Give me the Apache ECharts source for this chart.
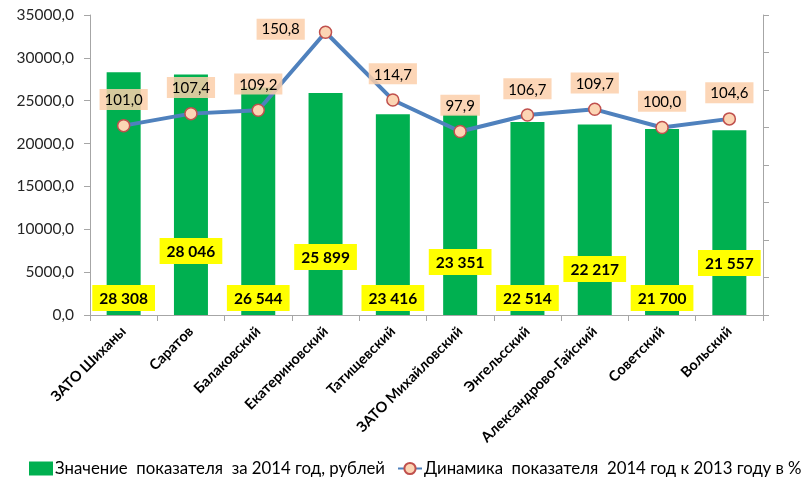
<!DOCTYPE html>
<html><head><meta charset="utf-8">
<script src="https://cdn.jsdelivr.net/npm/echarts@6/dist/echarts.min.js"></script>
<style>html,body{margin:0;padding:0;background:#fff}#c{width:810px;height:483px}</style>
</head><body><div id="c"></div>
<script>
const categories = ["ЗАТО Шиханы","Саратов","Балаковский","Екатериновский","Татищевский","ЗАТО Михайловский","Энгельсский","Александрово-Гайский","Советский","Вольский"];
const values2014 = [28308, 28046, 26544, 25899, 23416, 23351, 22514, 22217, 21700, 21557];
const dynamics = [101.0, 107.4, 109.2, 150.8, 114.7, 97.9, 106.7, 109.7, 100.0, 104.6];
const barLabelLift = [0, 47, 0, 41, 0, 36, 0, 29, 0, 35];
const barName = "Значение  показателя  за 2014 год, рублей";
const lineName = "Динамика  показателя  2014 год к 2013 году в %";

const font = "Lato, 'Open Sans', sans-serif";
const fmtThousands = v => String(v).replace(/\B(?=(\d{3})+(?!\d))/g, " ");
const fmtComma = v => Number(v).toFixed(1).replace(".", ",");

const chart = echarts.init(document.getElementById('c'), null, {renderer: 'canvas'});
chart.setOption({
  animation: false,
  textStyle: {fontFamily: font},
  grid: {left: 90, right: 47, top: 15, bottom: 168, containLabel: false},
  legend: {
    bottom: 1, left: 24, itemGap: 12, itemWidth: 24, itemHeight: 14,
    textStyle: {fontFamily: font, fontSize: 16.8, color: '#000', padding: [0, 0, 0, -3]},
    data: [
      {name: barName, icon: 'rect'},
      {name: lineName}
    ]
  },
  xAxis: {
    type: 'category', data: categories,
    axisLine: {lineStyle: {color: '#a6a6a6', width: 1}},
    axisTick: {show: true, alignWithLabel: false, length: 6, lineStyle: {color: '#a6a6a6'}},
    axisLabel: {rotate: 45, interval: 0, fontFamily: font, fontWeight: 'bold', fontSize: 14.5, color: '#000', margin: 14}
  },
  yAxis: [
    {
      type: 'value', min: 0, max: 35000, interval: 5000,
      axisLine: {show: true, lineStyle: {color: '#a6a6a6'}},
      axisTick: {show: true, length: 6, lineStyle: {color: '#a6a6a6'}},
      splitLine: {show: false},
      axisLabel: {formatter: fmtComma, fontFamily: font, fontSize: 15.5, color: '#262626', margin: 16}
    },
    {
      type: 'value', min: 0, max: 160, interval: 20, position: 'right',
      axisLine: {show: true, lineStyle: {color: '#a6a6a6'}},
      axisTick: {show: true, length: 6, lineStyle: {color: '#a6a6a6'}},
      splitLine: {show: false},
      axisLabel: {show: false}
    }
  ],
  series: [
    {
      name: barName, type: 'bar', yAxisIndex: 0, barWidth: 34,
      itemStyle: {color: '#00b050'},
      data: values2014.map((v, i) => ({
        value: v,
        label: {
          show: true, position: 'insideBottom', distance: 4, offset: [0, -barLabelLift[i]],
          formatter: p => fmtThousands(p.value),
          backgroundColor: '#ffff00', padding: [6, 7, 4, 7],
          color: '#000', fontWeight: 'bold', fontSize: 15.5, fontFamily: font
        }
      }))
    },
    {
      name: lineName, type: 'line', yAxisIndex: 1,
      lineStyle: {color: '#4f81bd', width: 4},
      itemStyle: {color: '#fcd5b4', borderColor: '#c0504d', borderWidth: 1.5},
      symbol: 'circle', symbolSize: 12,
      data: dynamics.map((v, i) => ({
        value: v,
        label: i === 3 ? {position: 'left', distance: 14, offset: [0, -3]} : {position: 'top', distance: 9}
      })),
      label: {
        show: true, formatter: p => fmtComma(p.value),
        backgroundColor: 'rgba(251,207,170,0.85)', padding: [4, 5, 2, 5],
        color: '#000', fontSize: 15, fontFamily: font
      },
      z: 5
    }
  ]
});
</script></body></html>
